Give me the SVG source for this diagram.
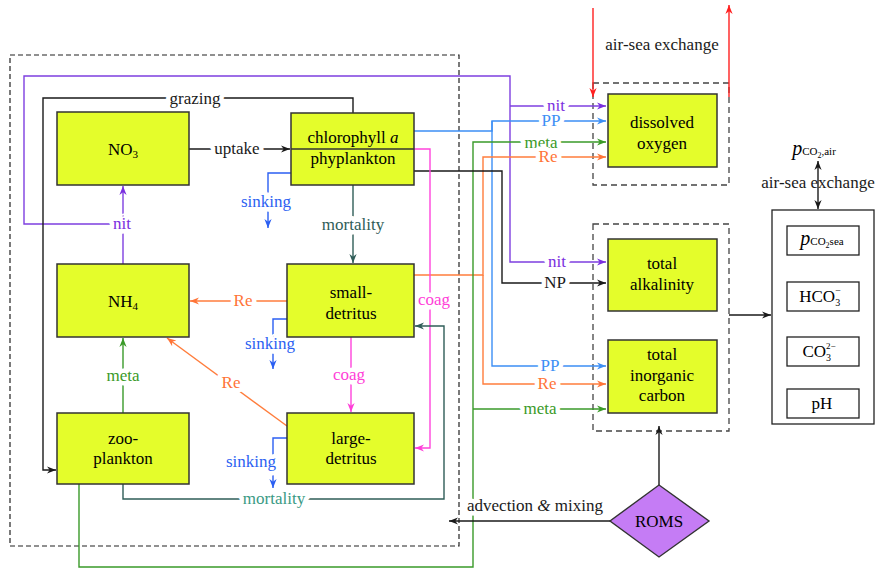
<svg xmlns="http://www.w3.org/2000/svg" width="877" height="572" viewBox="0 0 877 572" font-family="'Liberation Serif', serif">
  <style>
    text { font-family: "Liberation Serif", "Times New Roman", serif; font-size: 17px; text-anchor: middle; }
    .box { fill: #e4fd2b; stroke: #333; stroke-width: 1.5; }
    .wbox { fill: #fff; stroke: #222; stroke-width: 1.3; }
    .dash { fill: none; stroke: #222; stroke-width: 1.2; stroke-dasharray: 5 3; }
    .dash2 { fill: none; stroke: #444; stroke-width: 1.3; stroke-dasharray: 6 4; }
    .ln { fill: none; stroke-width: 1.4; }
    .lbl { stroke: #fff; stroke-width: 9; stroke-linejoin: round; paint-order: stroke; }
    .k { stroke: #1a1a1a; } .tk { fill: #1a1a1a; }
    .pu { stroke: #7e3fe0; } .tpu { fill: #7a2ee0; }
    .bl { stroke: #3d8ff5; } .tbl { fill: #3d8ff5; }
    .sk { stroke: #2b5ff2; } .tsk { fill: #2b5ff2; }
    .or { stroke: #ff7d3c; } .tor { fill: #ff7438; }
    .gr { stroke: #3a9a2a; } .tgr { fill: #3a9a28; }
    .pk { stroke: #ff44dc; } .tpk { fill: #ff3ed8; }
    .te { stroke: #2f5d58; } .tte { fill: #2f5d58; }
    .tte2 { fill: #3a9a84; }
    .rd { stroke: #ff2020; }
  </style>
  <defs>
    <marker id="ak" viewBox="0 0 10 10" refX="10" refY="5" markerWidth="9" markerHeight="9" markerUnits="userSpaceOnUse" orient="auto-start-reverse"><path d="M0,1 L10,5 L0,9 L3,5 z" fill="#1a1a1a"/></marker>
    <marker id="apu" viewBox="0 0 10 10" refX="10" refY="5" markerWidth="9" markerHeight="9" markerUnits="userSpaceOnUse" orient="auto"><path d="M0,1 L10,5 L0,9 L3,5 z" fill="#7a2ee0"/></marker>
    <marker id="abl" viewBox="0 0 10 10" refX="10" refY="5" markerWidth="9" markerHeight="9" markerUnits="userSpaceOnUse" orient="auto"><path d="M0,1 L10,5 L0,9 L3,5 z" fill="#3d8ff5"/></marker>
    <marker id="ask" viewBox="0 0 10 10" refX="10" refY="5" markerWidth="9" markerHeight="9" markerUnits="userSpaceOnUse" orient="auto"><path d="M0,1 L10,5 L0,9 L3,5 z" fill="#2b5ff2"/></marker>
    <marker id="aor" viewBox="0 0 10 10" refX="10" refY="5" markerWidth="9" markerHeight="9" markerUnits="userSpaceOnUse" orient="auto"><path d="M0,1 L10,5 L0,9 L3,5 z" fill="#ff7438"/></marker>
    <marker id="agr" viewBox="0 0 10 10" refX="10" refY="5" markerWidth="9" markerHeight="9" markerUnits="userSpaceOnUse" orient="auto"><path d="M0,1 L10,5 L0,9 L3,5 z" fill="#3a9a28"/></marker>
    <marker id="apk" viewBox="0 0 10 10" refX="10" refY="5" markerWidth="9" markerHeight="9" markerUnits="userSpaceOnUse" orient="auto"><path d="M0,1 L10,5 L0,9 L3,5 z" fill="#ff3ed8"/></marker>
    <marker id="ate" viewBox="0 0 10 10" refX="10" refY="5" markerWidth="9" markerHeight="9" markerUnits="userSpaceOnUse" orient="auto"><path d="M0,1 L10,5 L0,9 L3,5 z" fill="#2f5d58"/></marker>
    <marker id="ard" viewBox="0 0 10 10" refX="10" refY="5" markerWidth="9" markerHeight="9" markerUnits="userSpaceOnUse" orient="auto"><path d="M0,1 L10,5 L0,9 L3,5 z" fill="#ff2020"/></marker>
  </defs>
  <rect width="877" height="572" fill="#fff"/>

  <!-- compartment frames -->
  <rect class="dash" x="10" y="55" width="449" height="491"/>
  <rect class="dash2" x="593" y="83" width="136" height="102"/>
  <rect class="dash2" x="593" y="224" width="136" height="207"/>

  <!-- connectors -->
  <g id="connectors">
    <!-- nitrification -->
    <path class="ln pu" d="M123,224 H24 V76 H510 V262 H606" marker-end="url(#apu)"/>
    <path class="ln pu" d="M510,106 H606" marker-end="url(#apu)"/>
    <path class="ln pu" d="M123,264 V186" marker-end="url(#apu)"/>
    <!-- grazing / uptake -->
    <path class="ln k" d="M353,113 V98 H43 V470 H56" marker-end="url(#ak)"/>
    <path class="ln k" d="M189,149 H290" marker-end="url(#ak)"/>
    <!-- primary production -->
    <path class="ln bl" d="M414,131 H492 V121 H606" marker-end="url(#abl)"/>
    <path class="ln bl" d="M492,121 V366 H606" marker-end="url(#abl)"/>
    <!-- remineralisation to dissolved pools -->
    <path class="ln or" d="M414,275 H483 V157 H606" marker-end="url(#aor)"/>
    <path class="ln or" d="M483,275 V384 H606" marker-end="url(#aor)"/>
    <!-- zooplankton metabolism -->
    <path class="ln gr" d="M79,484 V567 H473 V142 H606" marker-end="url(#agr)"/>
    <path class="ln gr" d="M473,409 H606" marker-end="url(#agr)"/>
    <path class="ln gr" d="M123,413 V338" marker-end="url(#agr)"/>
    <!-- new production -->
    <path class="ln k" d="M414,171 H502 V283 H606" marker-end="url(#ak)"/>
    <!-- coagulation -->
    <path class="ln pk" d="M414,149 H430 V448 H415" marker-end="url(#apk)"/>
    <path class="ln pk" d="M351,337 V412" marker-end="url(#apk)"/>
    <!-- mortality -->
    <path class="ln te" d="M353,185 V263" marker-end="url(#ate)"/>
    <path class="ln te" d="M123,484 V499 H444 V326 H415" marker-end="url(#ate)"/>
    <!-- remineralisation to NH4 -->
    <path class="ln or" d="M287,301 H190" marker-end="url(#aor)"/>
    <path class="ln or" d="M287,426 L167,338" marker-end="url(#aor)"/>
    <!-- sinking -->
    <path class="ln sk" d="M291,173 H268 V228" marker-end="url(#ask)"/>
    <path class="ln sk" d="M287,319 H273 V369" marker-end="url(#ask)"/>
    <path class="ln sk" d="M287,438 H273 V488" marker-end="url(#ask)"/>
    <!-- oxygen air-sea exchange -->
    <path class="ln rd" d="M593,8 V97" marker-end="url(#ard)"/>
    <path class="ln rd" d="M729,97 V5" marker-end="url(#ard)"/>
    <!-- carbonate system -->
    <path class="ln k" d="M729,315 H771" marker-end="url(#ak)"/>
    <path class="ln k" d="M822,282 V256" marker-end="url(#ak)"/>
    <path class="ln k" d="M822,312 V337" marker-start="url(#ak)" marker-end="url(#ak)"/>
    <!-- physical forcing -->
    <path class="ln k" d="M659,485 V426" marker-end="url(#ak)"/>
    <path class="ln k" d="M610,521 H449" marker-end="url(#ak)"/>

    <!-- connector labels -->
    <text class="lbl tk" x="195" y="104">grazing</text>
    <text class="lbl tk" x="237" y="154">uptake</text>
    <text class="lbl tpu" x="122" y="229">nit</text>
    <text class="lbl tpu" x="556" y="111">nit</text>
    <text class="lbl tpu" x="557" y="267">nit</text>
    <text class="lbl tbl" x="551" y="126">PP</text>
    <text class="lbl tbl" x="550" y="371">PP</text>
    <text class="lbl tgr" x="541" y="148">meta</text>
    <text class="lbl tgr" x="540" y="414">meta</text>
    <text class="lbl tgr" x="123" y="381">meta</text>
    <text class="lbl tor" x="548" y="162">Re</text>
    <text class="lbl tor" x="547" y="389">Re</text>
    <text class="lbl tor" x="243" y="306">Re</text>
    <text class="lbl tor" x="231" y="388">Re</text>
    <text class="lbl tk" x="555" y="288">NP</text>
    <text class="lbl tpk" x="434" y="305">coag</text>
    <text class="lbl tpk" x="349" y="380">coag</text>
    <text class="lbl tte" x="353" y="230">mortality</text>
    <text class="lbl tte2" x="274" y="504">mortality</text>
    <text class="lbl tsk" x="266" y="207">sinking</text>
    <text class="lbl tsk" x="270" y="349">sinking</text>
    <text class="lbl tsk" x="251" y="467">sinking</text>
    <text class="tk" x="662" y="50">air-sea exchange</text>
    <text class="tk" x="818" y="188">air-sea exchange</text>
    <text class="lbl tk" x="535" y="511">advection <tspan font-style="italic">&amp;</tspan> mixing</text>
    <!-- exchange with the atmosphere, drawn over its label -->
    <path class="ln k" d="M818,161 V209" marker-start="url(#ak)" marker-end="url(#ak)"/>
  </g>

  <!-- biological state variables -->
  <g id="no3">
    <rect class="box" x="57" y="112" width="132" height="73"/>
    <text x="123" y="155">NO<tspan font-size="11" dy="3">3</tspan></text>
  </g>
  <g id="phytoplankton">
    <rect class="box" x="291" y="113" width="123" height="72"/>
    <line x1="291" y1="149" x2="414" y2="149" stroke="#333" stroke-width="1.4"/>
    <text x="353" y="143">chlorophyll <tspan font-style="italic">a</tspan></text>
    <text x="353" y="164">phyplankton</text>
  </g>
  <g id="nh4">
    <rect class="box" x="57" y="264" width="132" height="73"/>
    <text x="123" y="307">NH<tspan font-size="11" dy="3">4</tspan></text>
  </g>
  <g id="small-detritus">
    <rect class="box" x="287" y="264" width="127" height="73"/>
    <text x="351" y="298">small-</text>
    <text x="351" y="319">detritus</text>
  </g>
  <g id="zooplankton">
    <rect class="box" x="57" y="413" width="132" height="71"/>
    <text x="123" y="444">zoo-</text>
    <text x="123" y="464">plankton</text>
  </g>
  <g id="large-detritus">
    <rect class="box" x="287" y="413" width="127" height="71"/>
    <text x="351" y="444">large-</text>
    <text x="351" y="464">detritus</text>
  </g>

  <!-- chemical state variables -->
  <g id="oxygen">
    <rect class="box" x="608" y="94" width="109" height="73"/>
    <text x="662" y="128">dissolved</text>
    <text x="662" y="149">oxygen</text>
  </g>
  <g id="alkalinity">
    <rect class="box" x="608" y="239" width="109" height="72"/>
    <text x="662" y="269">total</text>
    <text x="662" y="290">alkalinity</text>
  </g>
  <g id="dic">
    <rect class="box" x="608" y="340" width="109" height="73"/>
    <text x="662" y="360">total</text>
    <text x="662" y="381">inorganic</text>
    <text x="662" y="401">carbon</text>
  </g>

  <!-- carbonate chemistry -->
  <g id="carbonate">
    <rect class="wbox" x="772" y="210" width="102" height="214"/>
    <text x="814" y="155"><tspan font-style="italic" font-size="20">p</tspan><tspan font-size="11">CO</tspan><tspan font-size="8" dy="3">2</tspan><tspan font-size="11" dy="-3">,air</tspan></text>
  </g>
  <g id="pco2-sea">
    <rect class="wbox" x="787" y="226" width="72" height="29"/>
    <text x="822" y="245"><tspan font-style="italic" font-size="20">p</tspan><tspan font-size="11">CO</tspan><tspan font-size="8" dy="3">2</tspan><tspan font-size="11" dy="-3">sea</tspan></text>
  </g>
  <g id="hco3">
    <rect class="wbox" x="787" y="282" width="72" height="29"/>
    <text x="820" y="302" font-size="16">HCO<tspan font-size="10" dy="4">3</tspan><tspan font-size="10" dx="-5" dy="-12">−</tspan></text>
  </g>
  <g id="co3">
    <rect class="wbox" x="787" y="337" width="72" height="29"/>
    <text x="819" y="357" font-size="16">CO<tspan font-size="10" dy="4">3</tspan><tspan font-size="9" dx="-5" dy="-12">2−</tspan></text>
  </g>
  <g id="ph">
    <rect class="wbox" x="787" y="389" width="72" height="29"/>
    <text x="822" y="409" font-size="16">pH</text>
  </g>

  <!-- ocean model driver -->
  <g id="roms">
    <polygon points="659,485 709,521 659,557 610,521" fill="#c57cf5" stroke="#333" stroke-width="1.4"/>
    <text x="659" y="527">ROMS</text>
  </g>
</svg>
